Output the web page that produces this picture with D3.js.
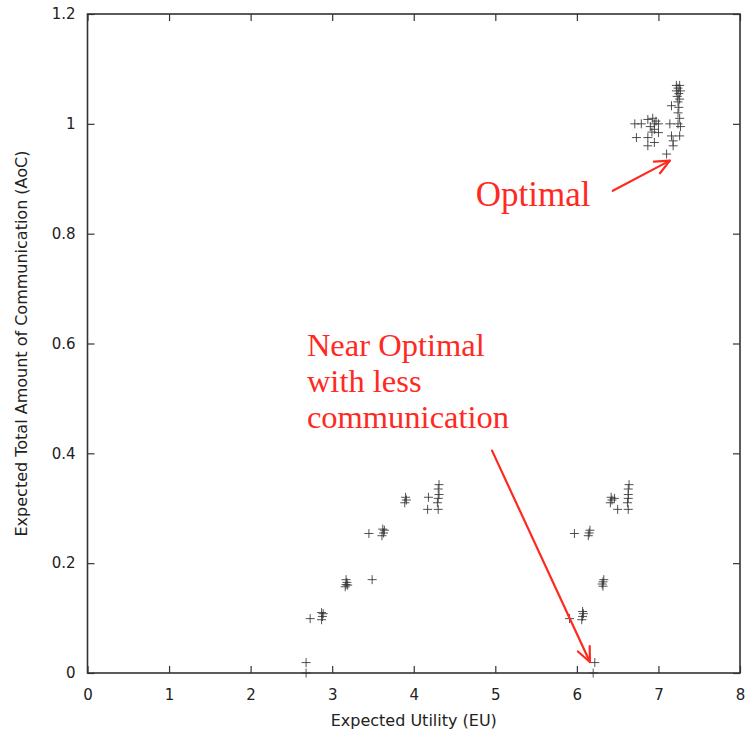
<!DOCTYPE html>
<html>
<head>
<meta charset="utf-8">
<script src="https://cdn.jsdelivr.net/npm/d3@7"></script>
<style>
  body { margin: 0; background: #fff; }
  svg { display: block; }
  .tick text { font-family: "DejaVu Sans", sans-serif; font-size: 15px; fill: #222; }
</style>
</head>
<body>
<svg id="chart" width="754" height="735"></svg>
<script>
const WIDTH = 754
const HEIGHT = 735
const MARGIN = {left: 87.5, right: 14, top: 14, bottom: 62}

// tick labels
const xTicks = [0, 1, 2, 3, 4, 5, 6, 7, 8]
const yTicks = [0, 0.2, 0.4, 0.6, 0.8, 1, 1.2]

// expected utility (EU) of each policy
const euValues = [
  2.68, 2.68, 2.73, 2.87, 2.88, 2.89, 2.87,
  3.16, 3.17, 3.18, 3.17, 3.19, 3.45, 3.49,
  3.61, 3.63, 3.64, 3.62, 3.89, 3.91, 3.90,
  4.17, 4.18, 4.30, 4.29, 4.30, 4.31, 4.30, 4.31,
  6.20, 6.22, 5.91, 6.06, 6.07, 6.08, 6.07,
  6.31, 6.32, 6.33, 6.32, 5.97, 6.14, 6.15, 6.16,
  6.41, 6.43, 6.42, 6.50, 6.46, 6.63, 6.62, 6.63, 6.63, 6.63, 6.64,
  7.22, 7.26, 7.24, 7.22, 7.27, 7.25, 7.23, 7.26, 7.24, 7.16, 7.25,
  7.24, 7.26, 7.14, 7.24, 7.27, 7.16, 7.26, 7.18, 7.18, 7.10,
  6.71, 6.79, 6.87, 6.93, 6.95, 6.95, 6.97, 7.00, 6.92, 6.73, 6.87, 6.95, 6.87, 7.00, 6.90
]
// expected total amount of communication (AoC), same order
const aocValues = [
  0.000, 0.019, 0.099, 0.097, 0.103, 0.108, 0.110,
  0.157, 0.161, 0.165, 0.170, 0.160, 0.254, 0.170,
  0.250, 0.255, 0.260, 0.262, 0.310, 0.315, 0.320,
  0.298, 0.320, 0.298, 0.310, 0.318, 0.325, 0.335, 0.343,
  0.000, 0.019, 0.099, 0.097, 0.103, 0.108, 0.112,
  0.162, 0.166, 0.170, 0.158, 0.254, 0.250, 0.255, 0.260,
  0.310, 0.315, 0.320, 0.298, 0.318, 0.298, 0.310, 0.318, 0.325, 0.335, 0.343,
  1.070, 1.070, 1.065, 1.060, 1.060, 1.055, 1.050, 1.045, 1.040, 1.033, 1.030,
  1.020, 1.010, 1.000, 1.000, 0.995, 0.978, 0.978, 0.969, 0.960, 0.945,
  1.000, 1.000, 1.008, 1.010, 1.000, 0.990, 1.005, 1.000, 0.985, 0.975, 0.975, 0.966, 0.960, 0.984, 0.995
]

// annotations: [x, y] in data units
const optimalLabel = {text: "Optimal", at: [4.76, 0.851]}
const optimalArrow = {from: [6.44, 0.878], to: [7.14, 0.933]}
const nearLabel = {lines: ["Near Optimal", "with less", "communication"], at: [2.69, 0.578]}
const nearArrow = {from: [4.96, 0.405], to: [6.16, 0.02]}

let points = euValues.map((d, i) => ({eu: d, aoc: aocValues[i]}))

let svg = d3.select("#chart")

let xScale = d3.scaleLinear()
  .domain([0, 8])
  .range([MARGIN.left, WIDTH - MARGIN.right])

let yScale = d3.scaleLinear()
  .domain([0, 1.2])
  .range([HEIGHT - MARGIN.bottom, MARGIN.top])

const fmt = d3.format("~g")
const TICK = 7

// axes, ticks point inward and are mirrored on top / right
svg.append("g")
  .attr("transform", `translate(0, ${yScale(0)})`)
  .call(d3.axisBottom(xScale).tickValues(xTicks).tickFormat(fmt).tickSize(-TICK).tickPadding(16))
svg.append("g")
  .attr("transform", `translate(0, ${yScale(1.2)})`)
  .call(d3.axisTop(xScale).tickValues(xTicks).tickFormat("").tickSize(-TICK))
svg.append("g")
  .attr("transform", `translate(${xScale(0)}, 0)`)
  .call(d3.axisLeft(yScale).tickValues(yTicks).tickFormat(fmt).tickSize(-TICK).tickPadding(12))
svg.append("g")
  .attr("transform", `translate(${xScale(8)}, 0)`)
  .call(d3.axisRight(yScale).tickValues(yTicks).tickFormat("").tickSize(-TICK))

svg.selectAll(".domain").remove()
svg.selectAll(".tick line").attr("stroke", "#333").attr("stroke-width", 1.2)

svg.append("rect")
  .attr("x", xScale(0))
  .attr("y", yScale(1.2))
  .attr("width", xScale(8) - xScale(0))
  .attr("height", yScale(0) - yScale(1.2))
  .attr("fill", "none")
  .attr("stroke", "#333")
  .attr("stroke-width", 1.6)

// axis titles
svg.append("text")
  .attr("x", (xScale(0) + xScale(8)) / 2)
  .attr("y", 726)
  .attr("text-anchor", "middle")
  .style("font-family", "DejaVu Sans, sans-serif")
  .style("font-size", "16px")
  .attr("fill", "#222")
  .text("Expected Utility (EU)")

svg.append("text")
  .attr("transform", `translate(27, ${(yScale(0) + yScale(1.2)) / 2}) rotate(-90)`)
  .attr("text-anchor", "middle")
  .style("font-family", "DejaVu Sans, sans-serif")
  .style("font-size", "16px")
  .attr("fill", "#222")
  .text("Expected Total Amount of Communication (AoC)")

// "+" markers
const S = 4.5
svg.append("g")
  .selectAll("path")
  .data(points)
  .join("path")
  .attr("d", d => {
    let px = xScale(d.eu), py = yScale(d.aoc)
    return `M${px - S},${py}H${px + S}M${px},${py - S}V${py + S}`
  })
  .attr("stroke", "#333")
  .attr("stroke-opacity", 0.85)
  .attr("stroke-width", 1)
  .attr("fill", "none")

// annotations
const RED = "#ff2a1f"
function arrow(a) {
  let x1 = xScale(a.from[0]), y1 = yScale(a.from[1])
  let x2 = xScale(a.to[0]), y2 = yScale(a.to[1])
  let ang = Math.atan2(y2 - y1, x2 - x1)
  let len = 16, spread = 0.42
  let g = svg.append("g").attr("stroke", RED).attr("stroke-width", 2.2).attr("fill", "none")
    .attr("stroke-linecap", "round").attr("stroke-linejoin", "round")
  g.append("line").attr("x1", x1).attr("y1", y1).attr("x2", x2).attr("y2", y2)
  g.append("path").attr("d",
    `M${x2 - len * Math.cos(ang - spread)},${y2 - len * Math.sin(ang - spread)}` +
    `L${x2},${y2}` +
    `L${x2 - len * Math.cos(ang + spread)},${y2 - len * Math.sin(ang + spread)}`)
}
arrow(optimalArrow)
arrow(nearArrow)

svg.append("text")
  .attr("x", xScale(optimalLabel.at[0]))
  .attr("y", yScale(optimalLabel.at[1]))
  .style("font-family", "Liberation Serif, serif")
  .style("font-size", "35px")
  .attr("fill", RED)
  .text(optimalLabel.text)

svg.append("g")
  .selectAll("text")
  .data(nearLabel.lines)
  .join("text")
  .attr("x", xScale(nearLabel.at[0]))
  .attr("y", (d, i) => yScale(nearLabel.at[1]) + i * 36)
  .style("font-family", "Liberation Serif, serif")
  .style("font-size", "32.5px")
  .attr("fill", RED)
  .text(d => d)
</script>
</body>
</html>
